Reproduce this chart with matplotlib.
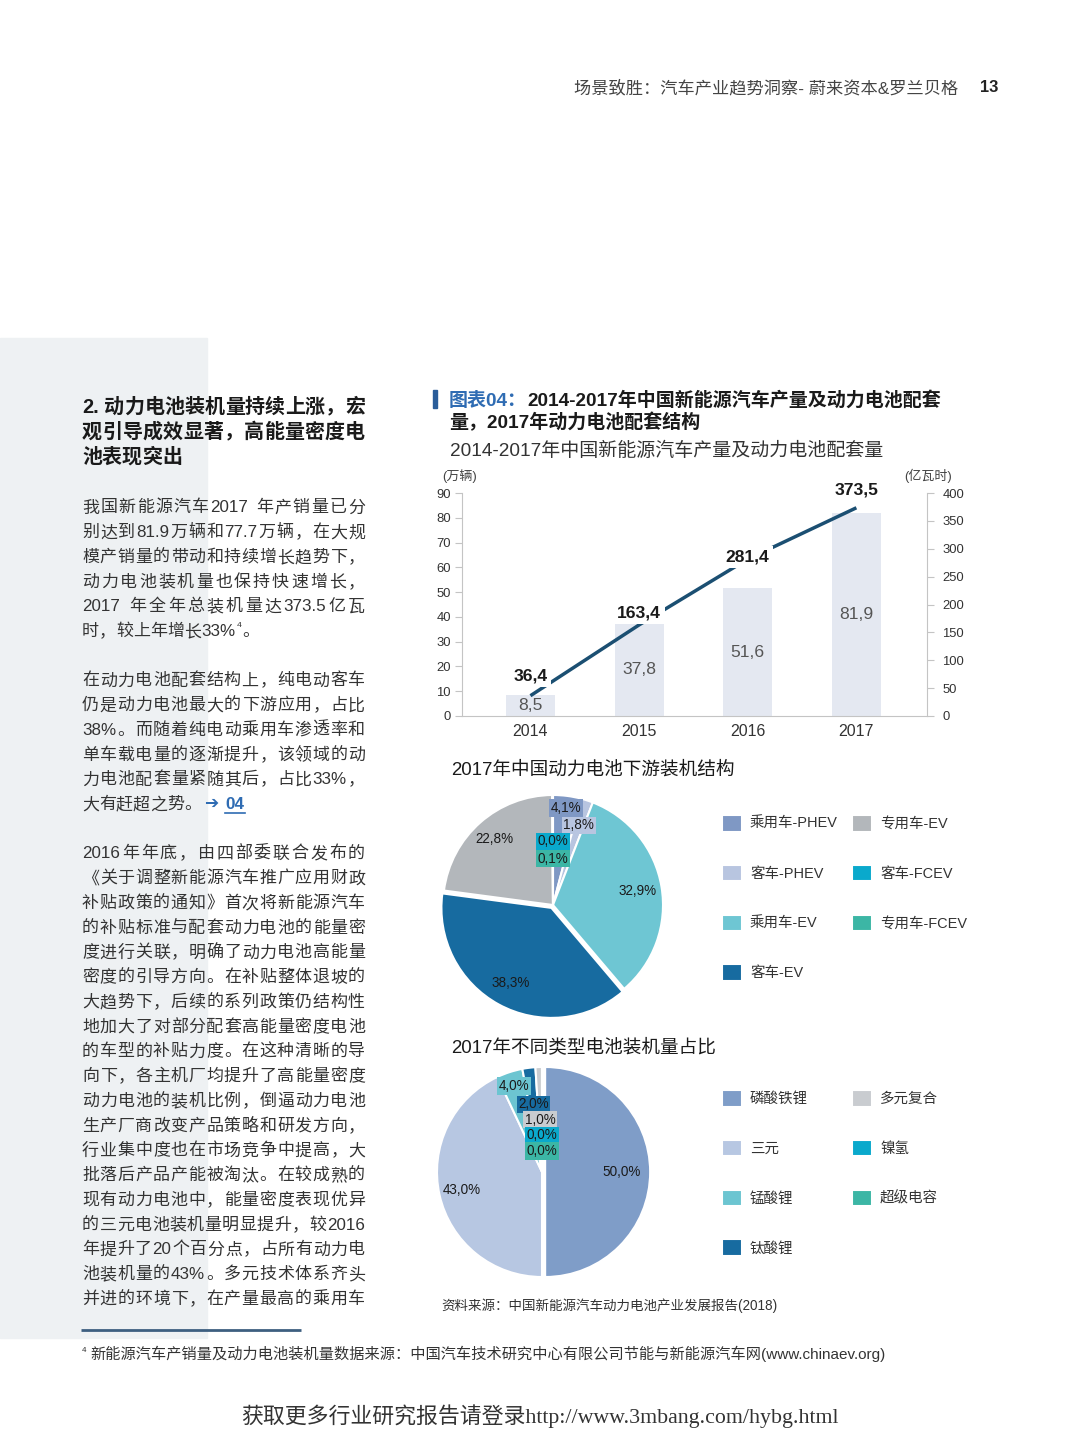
import re
import numpy as np
import matplotlib
matplotlib.use('Agg')
import matplotlib.pyplot as plt
from matplotlib.patches import Rectangle
from matplotlib.textpath import TextPath
from matplotlib.font_manager import FontProperties

W, H = 1080, 1431
PX = 0.72  # px -> pt at dpi 100
plt.rcParams['font.family'] = ['Liberation Sans', 'Noto Sans CJK SC']

# ---------------- data ----------------
years = ['2014', '2015', '2016', '2017']
vehicles = [8.5, 37.8, 51.6, 81.9]          # 万辆 (left axis)
battery = [36.4, 163.4, 281.4, 373.5]        # 亿瓦时 (right axis)
left_ticks = [0, 10, 20, 30, 40, 50, 60, 70, 80, 90]
right_ticks = [0, 50, 100, 150, 200, 250, 300, 350, 400]

seg_labels = ['乘用车-PHEV', '客车-PHEV', '乘用车-EV', '客车-EV', '专用车-EV', '客车-FCEV', '专用车-FCEV']
seg_values = [4.1, 1.8, 32.9, 38.3, 22.8, 0.0, 0.1]
chem_labels = ['磷酸铁锂', '三元', '锰酸锂', '钛酸锂', '多元复合', '镍氢', '超级电容']
chem_values = [50.0, 43.0, 4.0, 2.0, 1.0, 0.0, 0.0]

heading = ['2. 动力电池装机量持续上涨，宏', '观引导成效显著，高能量密度电', '池表现突出']
para1 = ['我国新能源汽车2017 年产销量已分', '别达到81.9万辆和77.7万辆，在大规',
         '模产销量的带动和持续增长趋势下，', '动力电池装机量也保持快速增长，',
         '2017 年全年总装机量达373.5亿瓦', '时，较上年增长33%⁴。']
para2 = ['在动力电池配套结构上，纯电动客车', '仍是动力电池最大的下游应用，占比',
         '38%。而随着纯电动乘用车渗透率和', '单车载电量的逐渐提升，该领域的动',
         '力电池配套量紧随其后，占比33%，', '大有赶超之势。']
para3 = ['2016年年底，由四部委联合发布的', '《关于调整新能源汽车推广应用财政',
         '补贴政策的通知》首次将新能源汽车', '的补贴标准与配套动力电池的能量密',
         '度进行关联，明确了动力电池高能量', '密度的引导方向。在补贴整体退坡的',
         '大趋势下，后续的系列政策仍结构性', '地加大了对部分配套高能量密度电池',
         '的车型的补贴力度。在这种清晰的导', '向下，各主机厂均提升了高能量密度',
         '动力电池的装机比例，倒逼动力电池', '生产厂商改变产品策略和研发方向，',
         '行业集中度也在市场竞争中提高，大', '批落后产品产能被淘汰。在较成熟的',
         '现有动力电池中，能量密度表现优异', '的三元电池装机量明显提升，较2016',
         '年提升了20个百分点，占所有动力电', '池装机量的43%。多元技术体系齐头',
         '并进的环境下，在产量最高的乘用车']

# ---------------- styles ----------------
bar_color = '#e4e8f1'
line_color = '#1b4f72'
axis_color = '#c4c4c4'
seg_colors = ['#7f98c4', '#b8c5e0', '#6ec6d3', '#176ba0', '#b3b7bb', '#0aa9cc', '#3cb6a5']
chem_colors = ['#7f9dc8', '#b7c7e2', '#6cc5d1', '#176ba0', '#c9ccd0', '#0aa9cc', '#3cb6a5']

fig = plt.figure(figsize=(W / 100, H / 100), dpi=100)
bg = fig.add_axes([0, 0, 1, 1])
bg.set_xlim(0, W)
bg.set_ylim(H, 0)
bg.axis('off')


def px_axes(x0, y0, x1, y1):
    a = fig.add_axes([x0 / W, 1 - y1 / H, (x1 - x0) / W, (y1 - y0) / H])
    a.set_facecolor('none')
    return a


# left grey panel
bg.add_patch(Rectangle((0, 338), 207, 1000, color='#eef1f3', zorder=0))

# header
bg.text(958, 88, '场景致胜：汽车产业趋势洞察- 蔚来资本&罗兰贝格', ha='right', va='center',
        fontsize=17.2 * PX, color='#444444')
bg.text(989, 88, '13', ha='center', va='center', fontsize=16.5 * PX, color='#222222', weight='bold')

# ---------------- justified body text ----------------
CJK_RE = re.compile(r'[\u2e80-\u9fff\u3000-\u303f\uff00-\uffef]')
LATIN = FontProperties(family='Liberation Sans')
LATIN_B = FontProperties(family='Liberation Sans', weight='bold')


def tokens_of(s):
    return re.findall(r'[A-Za-z0-9.%]+|\s|.', s)


def tok_width(tok, fs, weight):
    if tok == ' ':
        return 0.28 * fs
    if tok == '⁴':
        return 0.4 * fs
    if CJK_RE.match(tok):
        return fs
    tp = TextPath((0, 0), tok, size=fs, prop=LATIN_B if weight == 'bold' else LATIN)
    return tp.get_extents().x1 + 0.07 * fs


def draw_line(s, x0, x1, yc, fs, color, weight='normal', justify=True):
    toks = tokens_of(s)
    widths = [tok_width(t, fs, weight) for t in toks]
    total = sum(widths)
    gap = (x1 - x0 - total) / (len(toks) - 1) if (justify and len(toks) > 1) else 0.0
    base = yc + 0.38 * fs
    x = x0
    for t, w in zip(toks, widths):
        if t == '⁴':
            bg.text(x + 1, base - 0.55 * fs, '4', fontsize=fs * 0.5 * PX, color=color,
                    ha='left', va='baseline')
        elif t != ' ':
            bg.text(x, base, t, fontsize=fs * PX, color=color, weight=weight,
                    ha='left', va='baseline')
        x += w + gap
    return x - gap


TX0, TX1 = 82, 365
for i, s in enumerate(heading):
    draw_line(s, TX0, TX1, 405 + 25 * i, 20, '#1a1a1a', 'bold', justify=(i < len(heading) - 1))

PITCH = 24.75
for i, s in enumerate(para1):
    draw_line(s, TX0, TX1, 506 + PITCH * i, 17, '#333333', justify=(i < len(para1) - 1))
end_x = 0
for i, s in enumerate(para2):
    end_x = draw_line(s, TX0, TX1, 679 + PITCH * i, 17, '#333333', justify=(i < len(para2) - 1))
ylast = 679 + PITCH * (len(para2) - 1)
bg.text(end_x + 3, ylast, '➔', family=['DejaVu Sans'], fontsize=17 * PX, color='#2f6cb3',
        ha='left', va='center', weight='bold')
bg.text(end_x + 24, ylast + 0.38 * 17, '04', fontsize=17 * PX, color='#2f6cb3',
        ha='left', va='baseline', weight='bold')
bg.plot([end_x + 24, end_x + 44], [ylast + 10, ylast + 10], color='#2f6cb3', lw=1.2)
for i, s in enumerate(para3):
    draw_line(s, TX0, TX1, 852 + PITCH * i, 17, '#333333', justify=True)

# footnote
bg.plot([81, 301], [1330, 1330], color='#3d5f80', lw=2, solid_capstyle='butt')
bg.text(82, 1350, '4', fontsize=8 * PX, color='#333333', ha='left', va='center')
bg.text(90, 1354, '新能源汽车产销量及动力电池装机量数据来源：中国汽车技术研究中心有限公司节能与新能源汽车网(www.chinaev.org)',
        fontsize=15.2 * PX, color='#333333', ha='left', va='center')

# watermark
bg.text(540, 1416, '获取更多行业研究报告请登录http://www.3mbang.com/hybg.html',
        family=['Liberation Serif', 'Noto Sans CJK SC'], fontsize=21.9 * PX, color='#333333',
        ha='center', va='center')

# ---------------- chart titles ----------------
bg.add_patch(Rectangle((433, 390), 4, 18, color='#2a5d9a', zorder=2))
t1 = bg.text(449, 406, '图表04：', fontsize=19 * PX, color='#2f6cb3', weight='bold',
             ha='left', va='baseline')
bg.annotate('2014-2017年中国新能源汽车产量及动力电池配套', xy=(1, 0), xycoords=t1,
            fontsize=19 * PX, color='#1a1a1a', weight='bold', ha='left', va='bottom')
bg.text(449, 428, '量，2017年动力电池配套结构', fontsize=19 * PX, color='#1a1a1a',
        weight='bold', ha='left', va='baseline')
bg.text(450, 451, '2014-2017年中国新能源汽车产量及动力电池配套量', fontsize=19 * PX,
        color='#333333', ha='left', va='center')
bg.text(460, 476, '(万辆)', fontsize=13 * PX, color='#444444', ha='center', va='center')
bg.text(928, 476, '(亿瓦时)', fontsize=13 * PX, color='#444444', ha='center', va='center')

# ---------------- bar + line chart ----------------
ax = px_axes(462, 493, 927, 716)
x = np.arange(len(years))
ax.bar(x, vehicles, width=0.45, color=bar_color, zorder=1)
for xi, v in zip(x, vehicles):
    ax.text(xi, v / 2, f'{v:.1f}'.replace('.', ','), ha='center', va='center',
            fontsize=17.5 * PX, color='#555555', zorder=2)
ax.set_xlim(-0.63, 3.65)
ax.set_ylim(0, 90)
ax.set_yticks(left_ticks)
ax.set_xticks(x, years)
for side in ['top', 'right']:
    ax.spines[side].set_visible(False)
for side in ['left', 'bottom']:
    ax.spines[side].set_color(axis_color)
ax.tick_params(axis='y', direction='out', length=5, color=axis_color, labelsize=13 * PX,
               labelcolor='#333333', pad=3)
ax.tick_params(axis='x', length=0, labelsize=16 * PX, labelcolor='#333333', pad=6)

ax2 = ax.twinx()
ax2.set_ylim(0, 400)
ax2.set_yticks(right_ticks)
for side in ['top', 'left', 'bottom']:
    ax2.spines[side].set_visible(False)
ax2.spines['right'].set_color(axis_color)
ax2.tick_params(axis='y', direction='out', length=5, color=axis_color, labelsize=13 * PX,
                labelcolor='#333333', pad=6)
ax2.plot(x, battery, color=line_color, lw=2.5, zorder=3, solid_capstyle='butt')
label_dy = [20, 12, 2, 18]
for xi, v, dy in zip(x, battery, label_dy):
    ax2.annotate(f'{v:.1f}'.replace('.', ','), (xi, v), xytext=(0, dy * PX),
                 textcoords='offset points', ha='center', va='center', fontsize=17.5 * PX,
                 weight='bold', color='#1a1a1a', zorder=4,
                 bbox=dict(boxstyle='square,pad=0.2', fc='white', ec='none'))

# ---------------- pies ----------------
bg.text(451, 770, '2017年中国动力电池下游装机结构', fontsize=18.6 * PX, color='#1a1a1a',
        ha='left', va='center')
bg.text(451, 1047, '2017年不同类型电池装机量占比', fontsize=18.6 * PX, color='#1a1a1a',
        ha='left', va='center')


def draw_pie(values, colors, cx, cy, r, explode, radii, boxed):
    s = 1.08
    a = px_axes(cx - r * s, cy - r * s, cx + r * s, cy + r * s)
    wedges, _ = a.pie(values, colors=colors, startangle=90, counterclock=False,
                      explode=explode, wedgeprops=dict(edgecolor='white', linewidth=1.5))
    a.set_xlim(-s, s)
    a.set_ylim(-s, s)
    for w, v, rr, bx in zip(wedges, values, radii, boxed):
        th = np.deg2rad((w.theta1 + w.theta2) / 2)
        c0, c1 = w.center
        bbox = dict(boxstyle='square,pad=0.12', fc=w.get_facecolor(), ec='none') if bx else None
        a.text(c0 + rr * np.cos(th), c1 + rr * np.sin(th), f'{v:.1f}%'.replace('.', ','),
               ha='center', va='center', fontsize=13.5 * PX, color='#1a1a1a', bbox=bbox)
    return wedges


def legend_col(handles, labels, xpx, ycpx):
    fs = 14.5
    hh = 20
    fig.legend(handles, labels, loc='upper left',
               bbox_to_anchor=(xpx / W, 1 - (ycpx - hh / 2) / H),
               frameon=False, borderpad=0, borderaxespad=0,
               handlelength=hh / fs, handleheight=hh / fs, handletextpad=8 / fs,
               labelspacing=(53.2 - hh) / fs, fontsize=fs * PX, labelcolor='#333333')


w1 = draw_pie(seg_values, seg_colors, 553, 905, 110, [0, 0, 0, 0.03, 0, 0, 0],
              [0.89, 0.76, 0.78, 0.78, 0.80, 0.58, 0.42],
              [True, True, False, False, False, True, True])
legend_col(w1[:4], seg_labels[:4], 722, 825)
legend_col(w1[4:], seg_labels[4:], 852, 825)

w2 = draw_pie(chem_values, chem_colors, 542, 1172, 105, [0.03, 0, 0, 0, 0, 0, 0],
              [0.73, 0.78, 0.86, 0.65, 0.50, 0.35, 0.20],
              [False, False, True, True, True, True, True])
legend_col(w2[:4], chem_labels[:4], 722, 1100)
legend_col(w2[4:], chem_labels[4:], 852, 1100)

bg.text(441, 1306, '资料来源：中国新能源汽车动力电池产业发展报告(2018)', fontsize=13.5 * PX,
        color='#333333', ha='left', va='center')

fig.savefig('out.png', dpi=100)
